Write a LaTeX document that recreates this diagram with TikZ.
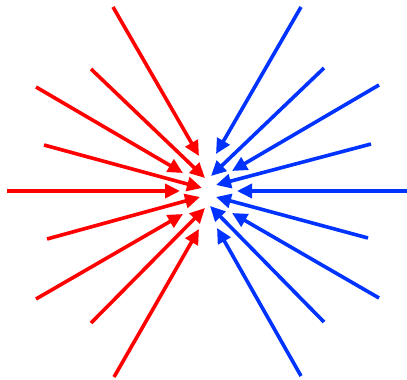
\documentclass[tikz,border=0pt]{standalone}
\usetikzlibrary{arrows.meta}
\definecolor{fieldred}{RGB}{255,0,0}
\definecolor{fieldblue}{RGB}{0,51,255}
\tikzset{
  redarrow/.style={draw=fieldred, line width=3.6pt, -{Triangle[length=15pt,width=14pt]}, fill=fieldred},
  bluearrow/.style={draw=fieldblue, line width=3.6pt, -{Triangle[length=15pt,width=14pt]}, fill=fieldblue}
}
\begin{document}
\begin{tikzpicture}[x=1pt,y=-1pt]
\useasboundingbox (0,0) rectangle (407,380);
% red starts / ends
\coordinate (rs1) at (113,7);   \coordinate (re1) at (199,156);
\coordinate (rs2) at (91,69);   \coordinate (re2) at (205,178);
\coordinate (rs3) at (36,87);   \coordinate (re3) at (183,173);
\coordinate (rs4) at (44,145);  \coordinate (re4) at (202,188);
\coordinate (rs5) at (7,191);   \coordinate (re5) at (180,191);
\coordinate (rs6) at (47,239);  \coordinate (re6) at (200,197);
\coordinate (rs7) at (36,299);  \coordinate (re7) at (183,214);
\coordinate (rs8) at (91,323);  \coordinate (re8) at (205,208);
\coordinate (rs9) at (114,377); \coordinate (re9) at (199,229);
% blue starts / ends
\coordinate (bs1) at (301,7);   \coordinate (be1) at (216,154);
\coordinate (bs2) at (324,68);  \coordinate (be2) at (211,176);
\coordinate (bs3) at (379,85);  \coordinate (be3) at (232,171);
\coordinate (bs4) at (371,144); \coordinate (be4) at (216,185);
\coordinate (bs5) at (407,191); \coordinate (be5) at (237,191);
\coordinate (bs6) at (368,238); \coordinate (be6) at (216,197);
\coordinate (bs7) at (379,298); \coordinate (be7) at (232,213);
\coordinate (bs8) at (324,322); \coordinate (be8) at (210,206);
\coordinate (bs9) at (301,376); \coordinate (be9) at (217,228);
\foreach \i in {1,...,9}{
  \draw[redarrow] (rs\i) -- (re\i);
  \draw[bluearrow] (bs\i) -- (be\i);
}
\end{tikzpicture}
\end{document}
